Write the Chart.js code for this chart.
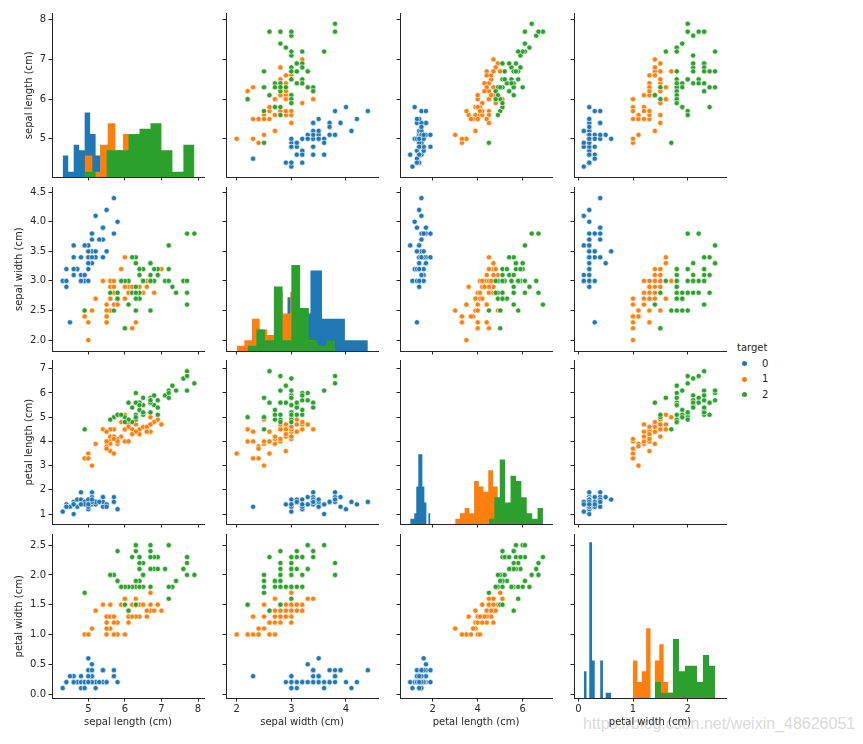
<!DOCTYPE html>
<html>
<head>
<meta charset="utf-8">
<script src="https://cdn.jsdelivr.net/npm/chart.js@4.4.1/dist/chart.umd.min.js"></script>
<style>
  body { margin: 0; width: 863px; height: 744px; background: #fff; position: relative; overflow: hidden; font-family: "DejaVu Sans", sans-serif; color: #262626; }
  canvas { position: absolute; }
  #mark { position: absolute; left: 583px; top: 715px; font: 16px "Liberation Sans", Arial, sans-serif; color: #dadada; white-space: nowrap; }
  .lg { position: absolute; font-size: 10px; line-height: 12px; white-space: nowrap; }
  .dot { position: absolute; width: 5px; height: 5px; border-radius: 50%; }
</style>
</head>
<body>
<div id="mark">https://blog.csdn.net/weixin_48626051</div>
<div id="legend"></div>
<script>
// iris measurements, one sub-array per target class (0, 1, 2)
var sepalLength = [
  [5.1,4.9,4.7,4.6,5.0,5.4,4.6,5.0,4.4,4.9,5.4,4.8,4.8,4.3,5.8,5.7,5.4,5.1,5.7,5.1,5.4,5.1,4.6,5.1,4.8,
   5.0,5.0,5.2,5.2,4.7,4.8,5.4,5.2,5.5,4.9,5.0,5.5,4.9,4.4,5.1,5.0,4.5,4.4,5.0,5.1,4.8,5.1,4.6,5.3,5.0],
  [7.0,6.4,6.9,5.5,6.5,5.7,6.3,4.9,6.6,5.2,5.0,5.9,6.0,6.1,5.6,6.7,5.6,5.8,6.2,5.6,5.9,6.1,6.3,6.1,6.4,
   6.6,6.8,6.7,6.0,5.7,5.5,5.5,5.8,6.0,5.4,6.0,6.7,6.3,5.6,5.5,5.5,6.1,5.8,5.0,5.6,5.7,5.7,6.2,5.1,5.7],
  [6.3,5.8,7.1,6.3,6.5,7.6,4.9,7.3,6.7,7.2,6.5,6.4,6.8,5.7,5.8,6.4,6.5,7.7,7.7,6.0,6.9,5.6,7.7,6.3,6.7,
   7.2,6.2,6.1,6.4,7.2,7.4,7.9,6.4,6.3,6.1,7.7,6.3,6.4,6.0,6.9,6.7,6.9,5.8,6.8,6.7,6.7,6.3,6.5,6.2,5.9]
];
var sepalWidth = [
  [3.5,3.0,3.2,3.1,3.6,3.9,3.4,3.4,2.9,3.1,3.7,3.4,3.0,3.0,4.0,4.4,3.9,3.5,3.8,3.8,3.4,3.7,3.6,3.3,3.4,
   3.0,3.4,3.5,3.4,3.2,3.1,3.4,4.1,4.2,3.1,3.2,3.5,3.6,3.0,3.4,3.5,2.3,3.2,3.5,3.8,3.0,3.8,3.2,3.7,3.3],
  [3.2,3.2,3.1,2.3,2.8,2.8,3.3,2.4,2.9,2.7,2.0,3.0,2.2,2.9,2.9,3.1,3.0,2.7,2.2,2.5,3.2,2.8,2.5,2.8,2.9,
   3.0,2.8,3.0,2.9,2.6,2.4,2.4,2.7,2.7,3.0,3.4,3.1,2.3,3.0,2.5,2.6,3.0,2.6,2.3,2.7,3.0,2.9,2.9,2.5,2.8],
  [3.3,2.7,3.0,2.9,3.0,3.0,2.5,2.9,2.5,3.6,3.2,2.7,3.0,2.5,2.8,3.2,3.0,3.8,2.6,2.2,3.2,2.8,2.8,2.7,3.3,
   3.2,2.8,3.0,2.8,3.0,2.8,3.8,2.8,2.8,2.6,3.0,3.4,3.1,3.0,3.1,3.1,3.1,2.7,3.2,3.3,3.0,2.5,3.0,3.4,3.0]
];
var petalLength = [
  [1.4,1.4,1.3,1.5,1.4,1.7,1.4,1.5,1.4,1.5,1.5,1.6,1.4,1.1,1.2,1.5,1.3,1.4,1.7,1.5,1.7,1.5,1.0,1.7,1.9,
   1.6,1.6,1.5,1.4,1.6,1.6,1.5,1.5,1.4,1.5,1.2,1.3,1.4,1.3,1.5,1.3,1.3,1.3,1.6,1.9,1.4,1.6,1.4,1.5,1.4],
  [4.7,4.5,4.9,4.0,4.6,4.5,4.7,3.3,4.6,3.9,3.5,4.2,4.0,4.7,3.6,4.4,4.5,4.1,4.5,3.9,4.8,4.0,4.9,4.7,4.3,
   4.4,4.8,5.0,4.5,3.5,3.8,3.7,3.9,5.1,4.5,4.5,4.7,4.4,4.1,4.0,4.4,4.6,4.0,3.3,4.2,4.2,4.2,4.3,3.0,4.1],
  [6.0,5.1,5.9,5.6,5.8,6.6,4.5,6.3,5.8,6.1,5.1,5.3,5.5,5.0,5.1,5.3,5.5,6.7,6.9,5.0,5.7,4.9,6.7,4.9,5.7,
   6.0,4.8,4.9,5.6,5.8,6.1,6.4,5.6,5.1,5.6,6.1,5.6,5.5,4.8,5.4,5.6,5.1,5.1,5.9,5.7,5.2,5.0,5.2,5.4,5.1]
];
var petalWidth = [
  [0.2,0.2,0.2,0.2,0.2,0.4,0.3,0.2,0.2,0.1,0.2,0.2,0.1,0.1,0.2,0.4,0.4,0.3,0.3,0.3,0.2,0.4,0.2,0.5,0.2,
   0.2,0.4,0.2,0.2,0.2,0.2,0.4,0.1,0.2,0.2,0.2,0.2,0.1,0.2,0.2,0.3,0.3,0.2,0.6,0.4,0.3,0.2,0.2,0.2,0.2],
  [1.4,1.5,1.5,1.3,1.5,1.3,1.6,1.0,1.3,1.4,1.0,1.5,1.0,1.4,1.3,1.4,1.5,1.0,1.5,1.1,1.8,1.3,1.5,1.2,1.3,
   1.4,1.4,1.7,1.5,1.0,1.1,1.0,1.2,1.6,1.5,1.6,1.5,1.3,1.3,1.3,1.2,1.4,1.2,1.0,1.3,1.2,1.3,1.3,1.1,1.3],
  [2.5,1.9,2.1,1.8,2.2,2.1,1.7,1.8,1.8,2.5,2.0,1.9,2.1,2.0,2.4,2.3,1.8,2.2,2.3,1.5,2.3,2.0,2.0,1.8,2.1,
   1.8,1.8,1.8,2.1,1.6,1.9,2.0,2.2,1.5,1.4,2.3,2.4,1.8,1.8,2.1,2.4,2.3,1.9,2.3,2.5,2.3,1.9,2.0,2.3,1.8]
];

var varNames = ["sepal length (cm)", "sepal width (cm)", "petal length (cm)", "petal width (cm)"];
var targets = ["0", "1", "2"];
var colors = ["#1f77b4", "#ff7f0e", "#2ca02c"];

var xTickLabels = [["5", "6", "7", "8"], ["2", "3", "4"], ["2", "4", "6"], ["0", "1", "2"]];
var yTickLabels = [
  ["5", "6", "7", "8"],
  ["2.0", "2.5", "3.0", "3.5", "4.0", "4.5"],
  ["1", "2", "3", "4", "5", "6", "7"],
  ["0.0", "0.5", "1.0", "1.5", "2.0", "2.5"]
];
var xLimits = [[4.007, 8.164], [1.804, 4.586], [0.547, 7.302], [-0.079, 2.700]];
var yLimits = [[4.038, 8.158], [1.815, 4.579], [0.588, 7.342], [-0.067, 2.679]];
var histMax = 30.45;   // tallest bar (29) plus headroom, shared by the diagonal
var BINS = 10;

var columns = [sepalLength, sepalWidth, petalLength, petalWidth];

// layout of the 4x4 grid
var PW = 152, PH = 164;
var PAD_L = 52, PAD_T = 8, PAD_R = 8, PAD_B = 40;
var colLeft = [52, 226, 400, 574];
var rowTop = [13, 187, 360, 534];
var yTitleX = [29.5, 19.8, 29.5, 19.6];   // ylabel sits next to its own tick labels
var ink = "#262626";
var font = { family: "DejaVu Sans", size: 10, lineHeight: 1.2 };

Chart.defaults.font.family = "DejaVu Sans";
Chart.defaults.color = ink;

// numpy-style histogram (10 equal bins between min and max), as step points
function histogram(values) {
  var lo = Math.min.apply(null, values), hi = Math.max.apply(null, values);
  var step = (hi - lo) / BINS, norm = BINS / (hi - lo);
  var edges = [], counts = [];
  for (var b = 0; b <= BINS; b++) edges.push(b * step + lo);
  edges[BINS] = hi;
  for (b = 0; b < BINS; b++) counts.push(0);
  values.forEach(function (v) {
    var k = Math.floor((v - lo) * norm);
    if (k === BINS) k--;
    if (v < edges[k]) k--;
    if (v >= edges[k + 1] && k !== BINS - 1) k++;
    counts[k]++;
  });
  return edges.map(function (e, b) { return { x: e, y: counts[Math.min(b, BINS - 1)] }; });
}

function tickValues(labels) {
  return labels.map(function (t) { return { value: parseFloat(t) }; });
}

function axis(limits, labels, showLabels, title, isX, titleX) {
  return {
    type: "linear",
    position: isX ? "bottom" : "left",
    min: limits[0],
    max: limits[1],
    afterBuildTicks: function (s) { s.ticks = tickValues(labels); },
    afterFit: function (s) { if (isX) s.height = PAD_B; else s.width = PAD_L; },
    ticks: {
      autoSkip: false,
      maxRotation: 0,
      font: font,
      color: ink,
      padding: isX ? 2 : 2.5,
      callback: function (v, i) { return showLabels ? labels[i] : ""; }
    },
    grid: { drawOnChartArea: false, drawTicks: true, tickLength: 3.5, color: ink, lineWidth: 1 },
    border: { display: true, color: ink, width: 1 },
    title: {
      display: showLabels,
      text: title,
      font: font,
      color: ink,
      padding: isX ? { top: 0, bottom: 9.3 } : { top: titleX - 6, bottom: 0 }
    }
  };
}

function panel(i, j) {
  var canvas = document.createElement("canvas");
  canvas.width = PAD_L + PW + PAD_R;
  canvas.height = PAD_T + PH + PAD_B;
  canvas.style.left = (colLeft[j] - PAD_L) + "px";
  canvas.style.top = (rowTop[i] - PAD_T) + "px";
  document.body.appendChild(canvas);

  var datasets = [];
  targets.forEach(function (t, k) {
    if (i === j) {
      datasets.push({
        type: "line",
        label: t,
        data: histogram(columns[j][k]),
        yAxisID: "yh",
        stepped: true,
        fill: "origin",
        backgroundColor: colors[k],
        borderWidth: 0,
        pointRadius: 0,
        order: 2 - k
      });
    } else {
      datasets.push({
        label: t,
        data: columns[j][k].map(function (v, n) { return { x: v, y: columns[i][k][n] }; }),
        backgroundColor: colors[k],
        borderColor: "#ffffff",
        borderWidth: 0.6,
        pointRadius: 2.6,
        order: 2 - k
      });
    }
  });

  var scales = {
    x: axis(xLimits[j], xTickLabels[j], i === 3, varNames[j], true, 0),
    y: axis(yLimits[i], yTickLabels[i], j === 0, varNames[i], false, yTitleX[i])
  };
  if (i === j) scales.yh = { type: "linear", display: false, min: 0, max: histMax };

  new Chart(canvas, {
    type: "scatter",
    data: { datasets: datasets },
    options: {
      responsive: false,
      animation: false,
      devicePixelRatio: 1,
      layout: { padding: { left: 0, top: PAD_T, right: PAD_R, bottom: 0 } },
      plugins: { legend: { display: false }, tooltip: { enabled: false } },
      scales: scales
    }
  });
}

for (var i = 0; i < 4; i++) {
  for (var j = 0; j < 4; j++) panel(i, j);
}

// legend on the right
var legend = document.getElementById("legend");
var head = document.createElement("div");
head.className = "lg";
head.style.left = "737px";
head.style.top = "342px";
head.textContent = "target";
legend.appendChild(head);
var legendY = [363.7, 379.2, 394.5];
targets.forEach(function (t, k) {
  var dot = document.createElement("div");
  dot.className = "dot";
  dot.style.background = colors[k];
  dot.style.left = (744 - 2.5) + "px";
  dot.style.top = (legendY[k] - 2.5) + "px";
  legend.appendChild(dot);
  var txt = document.createElement("div");
  txt.className = "lg";
  txt.style.left = "762px";
  txt.style.top = (legendY[k] - 6) + "px";
  txt.textContent = t;
  legend.appendChild(txt);
});
</script>
</body>
</html>
